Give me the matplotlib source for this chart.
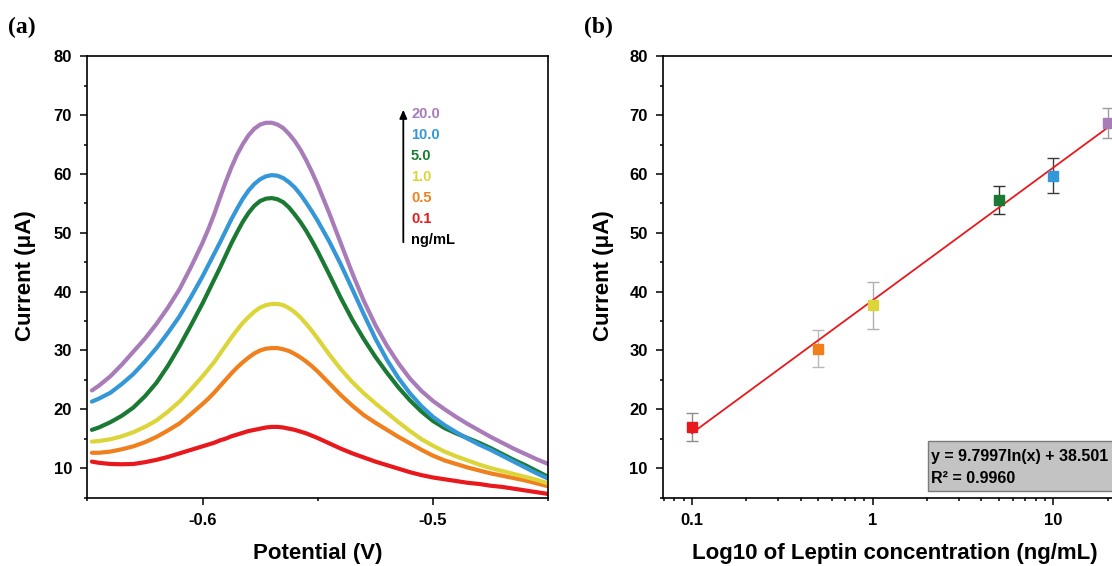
"""
DPV curves at several leptin concentrations (a) and the calibration plot (b).
Output: out.png, 1112 x 566 px.
"""

import matplotlib
matplotlib.use("Agg")
import matplotlib.pyplot as plt
import numpy as np
from matplotlib.patches import Rectangle, FancyArrowPatch
from matplotlib.ticker import FixedLocator, MultipleLocator, NullFormatter, LogLocator

plt.rcParams["font.family"] = ["Liberation Sans", "DejaVu Sans"]
plt.rcParams["font.weight"] = "bold"
plt.rcParams["axes.unicode_minus"] = False

W, H, DPI = 1112, 566, 100

# ---- panel (a): potential (V) vs current (uA) for each concentration ----
potential = [-0.648, -0.645, -0.64, -0.635, -0.63, -0.625, -0.62, -0.615, -0.61, -0.605,
             -0.60, -0.5975, -0.595, -0.5925, -0.59, -0.5875, -0.585, -0.5825, -0.58,
             -0.5775, -0.575, -0.5725, -0.57, -0.5675, -0.565, -0.5625, -0.56, -0.5575,
             -0.555, -0.5525, -0.55,
             -0.545, -0.54, -0.535, -0.53, -0.525, -0.52, -0.515, -0.51, -0.505, -0.50,
             -0.495, -0.49, -0.485, -0.48, -0.475, -0.47, -0.465, -0.46, -0.455, -0.45]
cur_0_1 = [11.1, 10.9, 10.7, 10.65, 10.7, 11.0, 11.4, 11.9, 12.5, 13.1,
           13.7, 14.0, 14.3, 14.7, 15.0, 15.4, 15.7, 16.0, 16.3, 16.5, 16.7,
           16.9, 17.0, 17.0, 16.9, 16.7, 16.5, 16.2, 15.9, 15.5, 15.1,
           14.2, 13.3, 12.5, 11.8, 11.1, 10.5, 9.9, 9.3, 8.8, 8.4,
           8.1, 7.8, 7.5, 7.3, 7.0, 6.8, 6.5, 6.2, 5.9, 5.6]
cur_0_5 = [12.6, 12.6, 12.8, 13.2, 13.7, 14.4, 15.3, 16.4, 17.6, 19.2,
           20.9, 21.8, 22.8, 23.9, 25.0, 26.1, 27.1, 28.0, 28.8, 29.5, 30.0,
           30.3, 30.4, 30.4, 30.2, 29.9, 29.4, 28.8, 28.1, 27.3, 26.4,
           24.4, 22.4, 20.6, 19.0, 17.7, 16.5, 15.3, 14.2, 13.1, 12.1,
           11.3, 10.7, 10.1, 9.6, 9.1, 8.7, 8.3, 7.9, 7.4, 6.9]
cur_1_0 = [14.5, 14.6, 14.9, 15.4, 16.1, 17.0, 18.1, 19.6, 21.3, 23.4,
           25.6, 26.8, 28.0, 29.4, 30.8, 32.2, 33.5, 34.7, 35.7, 36.6, 37.3,
           37.7, 37.9, 37.9, 37.7, 37.2, 36.5, 35.6, 34.5, 33.3, 32.0,
           29.3, 26.8, 24.6, 22.7, 21.0, 19.4, 17.8, 16.3, 14.9, 13.8,
           12.8, 12.0, 11.3, 10.6, 10.0, 9.5, 9.0, 8.5, 8.0, 7.4]
cur_5_0 = [16.5, 16.9, 17.8, 18.9, 20.3, 22.2, 24.5, 27.4, 30.7, 34.3,
           38.0, 40.0, 42.0, 44.0, 46.1, 48.2, 50.1, 51.9, 53.4, 54.6, 55.4,
           55.8, 55.9, 55.7, 55.2, 54.3, 53.1, 51.8, 50.3, 48.6, 46.8,
           42.9, 38.9, 35.2, 31.9, 28.9, 26.2, 23.7, 21.5, 19.6, 18.0,
           16.8, 15.9, 15.1, 14.3, 13.4, 12.4, 11.4, 10.5, 9.5, 8.5]
cur_10_0 = [21.3, 21.8, 22.8, 24.3, 26.0, 28.1, 30.4, 33.0, 35.8, 39.1,
            42.6, 44.5, 46.4, 48.3, 50.3, 52.3, 54.1, 55.8, 57.2, 58.3, 59.1,
            59.6, 59.8, 59.7, 59.3, 58.6, 57.7, 56.5, 55.1, 53.6, 52.0,
            48.5, 44.6, 40.4, 36.1, 32.0, 28.4, 25.3, 22.7, 20.5, 18.7,
            17.3, 16.1, 15.0, 14.0, 13.1, 12.1, 11.1, 10.1, 9.1, 8.2]
cur_20_0 = [23.2, 24.0, 25.6, 27.6, 29.8, 32.0, 34.5, 37.3, 40.4, 44.2,
            48.3, 50.6, 53.1, 55.9, 58.6, 61.1, 63.3, 65.1, 66.6, 67.7, 68.4,
            68.7, 68.7, 68.4, 67.8, 66.8, 65.6, 64.1, 62.3, 60.3, 58.1,
            53.3, 48.2, 43.1, 38.4, 34.3, 30.8, 27.8, 25.2, 23.1, 21.4,
            20.0, 18.7, 17.5, 16.4, 15.3, 14.3, 13.3, 12.4, 11.5, 10.7]

conc_labels = ["0.1", "0.5", "1.0", "5.0", "10.0", "20.0"]
colors = ["#e8191c", "#f0801e", "#dcd53a", "#1a7a33", "#3497d8", "#a87bb9"]

# ---- panel (b): peak current vs concentration ----
conc = [0.1, 0.5, 1, 5, 10, 20]
peak_current = [17.0, 30.3, 37.7, 55.6, 59.7, 68.6]
peak_err = [2.35, 3.1, 4.0, 2.4, 3.0, 2.55]
err_colors = ["#8c8c8c", "#b8b8b8", "#b0b0b0", "#333333", "#3c3c3c", "#9c9c9c"]
fit_slope, fit_intercept = 9.7997, 38.501


def fx(px):
    return px / W


def fy(py):
    return 1 - py / H


def style_axes(ax):
    for s in ax.spines.values():
        s.set_linewidth(1.2)
    ax.tick_params(which="both", direction="out", top=False, right=False,
                   width=1.1, labelsize=12, pad=6)
    ax.tick_params(which="major", length=5)
    ax.tick_params(which="minor", length=2.5)


fig = plt.figure(figsize=(W / DPI, H / DPI), dpi=DPI, facecolor="white")

# ---------------- (a) ----------------
ax1 = fig.add_axes([fx(87.3), fy(497.5), fx(548.3) - fx(87.3), fy(56.3) - fy(497.5)])
curves = [cur_0_1, cur_0_5, cur_1_0, cur_5_0, cur_10_0, cur_20_0]
for ys, c in zip(curves, colors):
    ax1.plot(potential, ys, color=c, lw=3.0, solid_capstyle="round", solid_joinstyle="round")
ax1.set_xlim(-0.65, -0.45)
ax1.set_ylim(5, 80)
ax1.xaxis.set_major_locator(FixedLocator([-0.6, -0.5]))
ax1.set_xticklabels(["-0.6", "-0.5"])
ax1.xaxis.set_minor_locator(FixedLocator([-0.65, -0.55, -0.45]))
ax1.yaxis.set_major_locator(MultipleLocator(10))
ax1.yaxis.set_minor_locator(MultipleLocator(5))
style_axes(ax1)

# concentration arrow + labels
fig.add_artist(FancyArrowPatch(
    (fx(403.3), fy(245)), (fx(403.3), fy(107)), transform=fig.transFigure,
    arrowstyle="-|>,head_length=5,head_width=2.2", mutation_scale=1, lw=1.3, color="black"))
label_y = [219.3, 198.3, 177.3, 156.3, 135.3, 114.3]
for lab, c, py in zip(conc_labels, colors, label_y):
    fig.text(fx(411), fy(py), lab, color=c, fontsize=10.5, fontweight="bold",
             ha="left", va="center")
fig.text(fx(411), fy(240.3), "ng/mL", color="black", fontsize=10.5, fontweight="bold",
         ha="left", va="center")

fig.text(fx(317.8), fy(559.5), "Potential (V)", fontsize=16, fontweight="bold",
         ha="center", va="baseline")
fig.text(fx(25), fy(276), "Current (\u03bcA)", fontsize=16, fontweight="bold",
         ha="center", va="center", rotation=90)
fig.text(fx(8), fy(17), "(a)", fontsize=17, fontweight="bold",
         family=["Liberation Serif", "DejaVu Serif"], ha="left", va="top")

# ---------------- (b) ----------------
ax2 = fig.add_axes([fx(663), fy(497.5), fx(1161.9) - fx(663), fy(56.3) - fy(497.5)])
ax2.set_xscale("log")
ax2.set_xlim(0.0692, 40)
ax2.set_ylim(5, 80)

# regression line from the printed equation
fit_x = np.array([conc[0], conc[-1]])
fit_y = fit_slope * np.log(fit_x) + fit_intercept
ax2.plot(fit_x, fit_y, color="#e8191c", lw=1.3, zorder=3)
for x, y, e, c, ec in zip(conc, peak_current, peak_err, colors, err_colors):
    ax2.errorbar([x], [y], yerr=[e], fmt="none", ecolor=ec, elinewidth=1.0,
                 capsize=4, capthick=1.0, zorder=2)
    ax2.plot([x], [y], marker="s", ms=7, color=c, mec=c, ls="none", zorder=4)

ax2.xaxis.set_major_locator(FixedLocator([0.1, 1, 10]))
ax2.set_xticklabels(["0.1", "1", "10"])
ax2.xaxis.set_minor_locator(LogLocator(base=10, subs=range(2, 10)))
ax2.xaxis.set_minor_formatter(NullFormatter())
ax2.yaxis.set_major_locator(MultipleLocator(10))
ax2.yaxis.set_minor_locator(MultipleLocator(5))
style_axes(ax2)

# fit equation box
fig.add_artist(Rectangle((fx(928.3), fy(491)), fx(1130) - fx(928.3), fy(440.7) - fy(491),
                         transform=fig.transFigure, facecolor="#c3c3c3",
                         edgecolor="#7a7a7a", lw=1.0))
fig.text(fx(931), fy(456.5), "y = 9.7997ln(x) + 38.501", fontsize=11.5, fontweight="bold",
         ha="left", va="center")
fig.text(fx(931), fy(478.5), "R\u00b2 = 0.9960", fontsize=11.5, fontweight="bold",
         ha="left", va="center")

fig.text(fx(894.7), fy(559.5), "Log10 of Leptin concentration (ng/mL)", fontsize=16,
         fontweight="bold", ha="center", va="baseline")
fig.text(fx(603), fy(276), "Current (\u03bcA)", fontsize=16, fontweight="bold",
         ha="center", va="center", rotation=90)
fig.text(fx(584), fy(17), "(b)", fontsize=17, fontweight="bold",
         family=["Liberation Serif", "DejaVu Serif"], ha="left", va="top")

fig.savefig("out.png", dpi=DPI, facecolor="white")
